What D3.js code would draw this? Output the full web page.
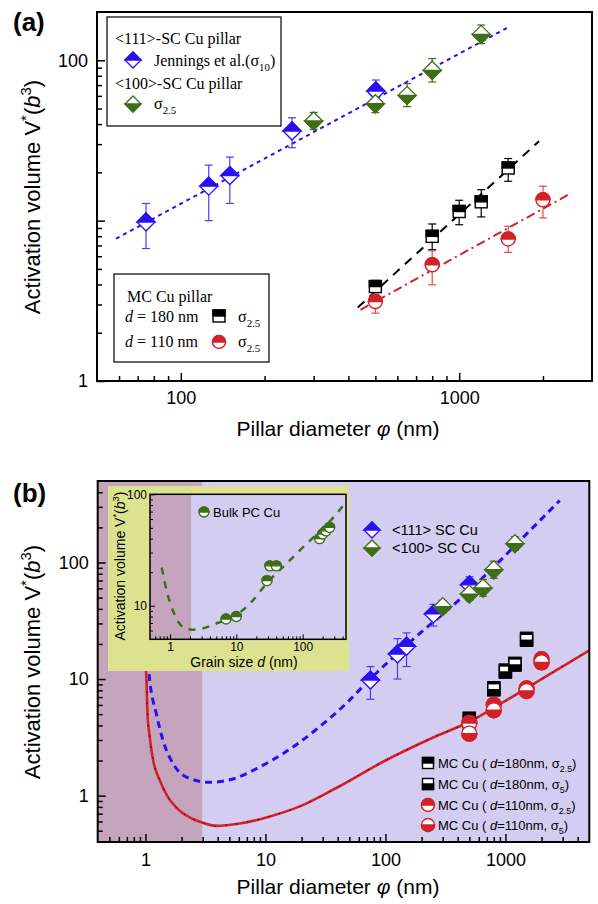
<!DOCTYPE html>
<html>
<head>
<meta charset="utf-8">
<script src="https://cdn.jsdelivr.net/npm/d3@7"></script>
<style>
body { margin: 0; background: #fff; }
svg { display: block; }
</style>
</head>
<body>
<svg id="chart" width="598" height="904"></svg>
<script>
// ---- panel (a) data ----
const a111X = [75, 126, 150, 251, 502];
const a111Y = [9.8, 16.4, 19.1, 36.2, 64.3];
const a111Lo = [6.7, 10.0, 12.8, 28.5, 50.6];
const a111Hi = [12.8, 22.2, 24.9, 43.8, 75.3];

const a100X = [300, 500, 650, 800, 1200];
const a100Y = [41.8, 53.6, 60.4, 86.6, 145];
const a100Lo = [37.0, 47.1, 51.4, 73.2, 127];
const a100Hi = [47.3, 59.8, 71.5, 102.5, 166];

const a180X = [500, 800, 1000, 1200, 1500];
const a180Y = [3.88, 7.98, 11.4, 13.1, 21.3];
const a180Lo = [3.6, 6.59, 9.43, 10.55, 17.6];
const a180Hi = [4.24, 9.53, 13.4, 15.6, 24.4];

const a110X = [500, 800, 1500, 2000];
const a110Y = [3.13, 5.31, 7.69, 13.5];
const a110Lo = [2.65, 3.98, 6.34, 10.4];
const a110Hi = [3.48, 6.49, 9.22, 16.4];

const fit111 = [[58.5, 7.72], [1494, 160]];
const fit180 = [[432, 2.87], [1936, 31.3]];
const fit110 = [[442, 2.78], [2500, 14.7]];

// ---- panel (b) data ----
const b180X = [500, 800, 1000, 1200, 1500];
const b180s25Y = [4.6, 8.4, 11.9, 13.6, 22.3];
const b180s5Y = [4.3, 8.1, 11.5, 13.2, 21.5];
const b110X = [500, 800, 1500, 2000];
const b110s25Y = [4.2, 6.0, 8.3, 14.8];
const b110s5Y = [3.4, 5.4, 7.9, 13.9];

const curve111 = [[1.05, 14], [1.085, 9.8], [1.23, 5.08], [1.4, 2.98], [1.7, 1.88], [2.2, 1.44], [3.43, 1.3],
  [5.37, 1.39], [8.95, 1.76], [14, 2.29], [20, 2.95], [30, 4.1], [47.3, 6.2], [71, 9.5], [175, 22.5],
  [417, 48.4], [1864, 220], [2835, 340]];
const curveMC = [[1.01, 12], [1.02, 9.8], [1.04, 5.08], [1.085, 3.19], [1.16, 2.0], [1.32, 1.35], [1.54, 0.97],
  [1.81, 0.79], [2.34, 0.65], [2.93, 0.59], [3.9, 0.55], [6.1, 0.577], [10.2, 0.65], [20, 0.82], [40, 1.18],
  [100, 2.0], [250, 3.15], [500, 4.3], [1000, 6.5], [2000, 10.0], [5000, 17.6]];

// inset
const bulkX = [7, 10, 29, 32, 40, 180, 200, 225, 255];
const bulkY = [7.6, 8.0, 16.8, 22.8, 22.8, 40, 44, 47, 50.5];
const curveBulk = [[0.75, 22], [0.91, 13], [1.15, 8.6], [1.54, 6.5], [2.17, 6.1], [3.25, 6.3], [5.2, 7.0],
  [9.2, 8.0], [16.4, 10.6], [29, 16], [73, 27.6], [92, 31.7], [329, 67.6], [454, 86]];

// ticks
const axMajor = [100, 1000], axMinor = [60, 70, 80, 90, 200, 300, 400, 500, 600, 700, 800, 900, 2000];
const ayMajor = [1, 10, 100], ayLabels = [1, 100], ayMinor = [2, 3, 4, 5, 6, 7, 8, 9, 20, 30, 40, 50, 60, 70, 80, 90];
const bxMajor = [1, 10, 100, 1000];
const bxMinor = [0.5, 0.6, 0.7, 0.8, 0.9, 2, 3, 4, 5, 6, 7, 8, 9, 20, 30, 40, 50, 60, 70, 80, 90,
  200, 300, 400, 500, 600, 700, 800, 900, 2000, 3000, 4000];
const byMajor = [1, 10, 100];
const byMinor = [0.5, 0.6, 0.7, 0.8, 0.9, 2, 3, 4, 5, 6, 7, 8, 9, 20, 30, 40, 50, 60, 70, 80, 90, 200, 300, 400];
const ixMajor = [1, 10, 100];
const ixMinor = [0.6, 0.7, 0.8, 0.9, 2, 3, 4, 5, 6, 7, 8, 9, 20, 30, 40, 50, 60, 70, 80, 90, 200, 300, 400];
const iyMajor = [10, 100], iyMinor = [6, 7, 8, 9, 20, 30, 40, 50, 60, 70, 80, 90];

const SANS = "Liberation Sans, Arial, Helvetica, sans-serif";
const SERIF = "Liberation Serif, Times New Roman, serif";
const BLUE = "#2a10f0", GREEN = "#3f6e1a", RED = "#d42027";

const svg = d3.select("#chart");

// text with italic / sub / sup parts
function rich(t, parts, base) {
  let off = 0;
  parts.forEach(([s, k]) => {
    const want = k === "sub" ? 0.3 : k === "sup" ? -0.42 : 0;
    const ts = t.append("tspan").text(s).attr("dy", ((want - off) * base) + "px");
    if (k === "sub" || k === "sup") ts.attr("font-size", base * 0.68);
    if (k === "i") ts.attr("font-style", "italic");
    off = want;
  });
  return t;
}

function axes(g, x, y, o) {
  const [xl, xr] = x.range(), [yb, yt] = y.range();
  const fmt = d => String(d);
  g.append("g").attr("transform", `translate(0,${yb})`)
    .call(d3.axisBottom(x).tickValues(o.xMinor).tickFormat("").tickSizeInner(-o.minor).tickSizeOuter(0));
  g.append("g").attr("transform", `translate(0,${yb})`)
    .call(d3.axisBottom(x).tickValues(o.xMajor).tickFormat(fmt).tickSizeInner(-o.major).tickSizeOuter(0).tickPadding(o.xpad));
  g.append("g").attr("transform", `translate(${xl},0)`)
    .call(d3.axisLeft(y).tickValues(o.yMinor).tickFormat("").tickSizeInner(-o.minor).tickSizeOuter(0));
  g.append("g").attr("transform", `translate(${xl},0)`)
    .call(d3.axisLeft(y).tickValues(o.yMajor).tickFormat(d => (o.yLabels || o.yMajor).includes(d) ? fmt(d) : "")
      .tickSizeInner(-o.major).tickSizeOuter(0).tickPadding(o.ypad));
  g.selectAll(".domain").remove();
  g.selectAll(".tick line").attr("stroke", "#000").attr("stroke-width", o.tw);
  g.selectAll(".tick text").attr("font-size", o.fs).attr("font-family", SANS).attr("fill", "#000");
  g.append("rect").attr("x", xl).attr("y", yt).attr("width", xr - xl).attr("height", yb - yt)
    .attr("fill", "none").attr("stroke", "#000").attr("stroke-width", o.fw);
}

function diamond(g, cx, cy, r, col, topFilled) {
  g.append("path").attr("d", `M${cx - r},${cy}L${cx},${cy - r}L${cx + r},${cy}L${cx},${cy + r}Z`)
    .attr("fill", "#fff").attr("stroke", col).attr("stroke-width", 1.3);
  const s = topFilled ? -r : r;
  g.append("path").attr("d", `M${cx - r},${cy}L${cx},${cy + s}L${cx + r},${cy}Z`)
    .attr("fill", col).attr("stroke", col).attr("stroke-width", 1.3);
}
function square(g, cx, cy, h, topFilled) {
  g.append("rect").attr("x", cx - h).attr("y", cy - h).attr("width", 2 * h).attr("height", 2 * h)
    .attr("fill", "#fff").attr("stroke", "#000").attr("stroke-width", 1.4);
  g.append("rect").attr("x", cx - h).attr("y", topFilled ? cy - h : cy).attr("width", 2 * h).attr("height", h)
    .attr("fill", "#000").attr("stroke", "#000").attr("stroke-width", 1.4);
}
function halfCircle(g, cx, cy, r, col, topFilled) {
  g.append("circle").attr("cx", cx).attr("cy", cy).attr("r", r)
    .attr("fill", "#fff").attr("stroke", col).attr("stroke-width", 1.4);
  g.append("path").attr("d", `M${cx - r},${cy}A${r},${r} 0 0 ${topFilled ? 1 : 0} ${cx + r},${cy}Z`)
    .attr("fill", col).attr("stroke", col).attr("stroke-width", 1.4);
}
function errBars(g, x, y, xs, lo, hi, col, cap) {
  xs.forEach((d, i) => {
    const px = x(d);
    g.append("line").attr("x1", px).attr("x2", px).attr("y1", y(lo[i])).attr("y2", y(hi[i]))
      .attr("stroke", col).attr("stroke-width", 1.2);
    [lo[i], hi[i]].forEach(v => g.append("line").attr("x1", px - cap).attr("x2", px + cap)
      .attr("y1", y(v)).attr("y2", y(v)).attr("stroke", col).attr("stroke-width", 1.2));
  });
}

// =============== panel (a) ===============
const xA = d3.scaleLog().domain([50, 3000]).range([97, 592]);
const yA = d3.scaleLog().domain([1, 200]).range([381, 12]);
const gA = svg.append("g");

const lineA = d3.line().x(d => xA(d[0])).y(d => yA(d[1]));
gA.append("path").attr("d", lineA(fit111)).attr("fill", "none").attr("stroke", BLUE)
  .attr("stroke-width", 2).attr("stroke-dasharray", "4,4");
gA.append("path").attr("d", lineA(fit180)).attr("fill", "none").attr("stroke", "#000")
  .attr("stroke-width", 2).attr("stroke-dasharray", "9,7");
gA.append("path").attr("d", lineA(fit110)).attr("fill", "none").attr("stroke", RED)
  .attr("stroke-width", 2).attr("stroke-dasharray", "9,4,2,4");

errBars(gA, xA, yA, a111X, a111Lo, a111Hi, "#4a3cff", 4);
errBars(gA, xA, yA, a100X, a100Lo, a100Hi, GREEN, 4);
errBars(gA, xA, yA, a180X, a180Lo, a180Hi, "#000", 4);
errBars(gA, xA, yA, a110X, a110Lo, a110Hi, "#e04a4a", 4);

a111X.forEach((d, i) => diamond(gA, xA(d), yA(a111Y[i]), 9, BLUE, true));
a100X.forEach((d, i) => diamond(gA, xA(d), yA(a100Y[i]), 9, GREEN, false));
a180X.forEach((d, i) => square(gA, xA(d), yA(a180Y[i]), 6, true));
a110X.forEach((d, i) => halfCircle(gA, xA(d), yA(a110Y[i]), 7, RED, true));

axes(gA, xA, yA, { xMajor: axMajor, xMinor: axMinor, yMajor: ayMajor, yMinor: ayMinor, yLabels: ayLabels,
  major: 8, minor: 5, xpad: 10, ypad: 9, fs: 18, tw: 1.5, fw: 2 });

// legends (a)
gA.append("rect").attr("x", 107).attr("y", 17).attr("width", 174).attr("height", 109)
  .attr("fill", "#fff").attr("stroke", "#000").attr("stroke-width", 1.2);
gA.append("text").attr("x", 115).attr("y", 44).attr("font-family", SERIF).attr("font-size", 16).text("<111>-SC Cu pillar");
diamond(gA, 133, 60, 8, BLUE, true);
rich(gA.append("text").attr("x", 154).attr("y", 66).attr("font-family", SERIF).attr("font-size", 16),
  [["Jennings et al.(σ", ""], ["10", "sub"], [")", ""]], 16);
gA.append("text").attr("x", 115).attr("y", 89).attr("font-family", SERIF).attr("font-size", 16).text("<100>-SC Cu pillar");
diamond(gA, 133, 104, 8, GREEN, false);
rich(gA.append("text").attr("x", 154).attr("y", 109).attr("font-family", SERIF).attr("font-size", 16),
  [["σ", ""], ["2.5", "sub"]], 16);

gA.append("rect").attr("x", 114).attr("y", 274).attr("width", 155).attr("height", 88)
  .attr("fill", "#fff").attr("stroke", "#000").attr("stroke-width", 1.2);
gA.append("text").attr("x", 127).attr("y", 302).attr("font-family", SERIF).attr("font-size", 16).text("MC Cu pillar");
rich(gA.append("text").attr("x", 125).attr("y", 322).attr("font-family", SERIF).attr("font-size", 16),
  [["d", "i"], [" = 180 nm", ""]], 16);
square(gA, 219, 316, 6, true);
rich(gA.append("text").attr("x", 238).attr("y", 322).attr("font-family", SERIF).attr("font-size", 16),
  [["σ", ""], ["2.5", "sub"]], 16);
rich(gA.append("text").attr("x", 125).attr("y", 347).attr("font-family", SERIF).attr("font-size", 16),
  [["d", "i"], [" = 110 nm", ""]], 16);
halfCircle(gA, 219, 342, 6.5, RED, true);
rich(gA.append("text").attr("x", 238).attr("y", 347).attr("font-family", SERIF).attr("font-size", 16),
  [["σ", ""], ["2.5", "sub"]], 16);

// axis titles (a)
rich(gA.append("text").attr("transform", "translate(40,197) rotate(-90)").attr("text-anchor", "middle")
  .attr("font-family", SANS).attr("font-size", 22),
  [["Activation volume V", ""], ["*", "sup"], ["(", ""], ["b", "i"], ["3", "sup"], [")", ""]], 22);
rich(gA.append("text").attr("x", 338).attr("y", 436).attr("text-anchor", "middle")
  .attr("font-family", SANS).attr("font-size", 21),
  [["Pillar diameter ", ""], ["φ", "i"], [" (nm)", ""]], 21);
svg.append("text").attr("x", 13).attr("y", 31).attr("font-family", SANS).attr("font-weight", "bold")
  .attr("font-size", 26).text("(a)");

// =============== panel (b) ===============
const xB = d3.scaleLog().domain([0.4, 5000]).range([97.7, 589.3]);
const yB = d3.scaleLog().domain([0.4, 500]).range([842, 481]);
const gB = svg.append("g");
svg.append("clipPath").attr("id", "clipB").append("rect")
  .attr("x", 97.7).attr("y", 481).attr("width", 491.6).attr("height", 361);

gB.append("rect").attr("x", xB(0.4)).attr("y", 481).attr("width", xB(3) - xB(0.4)).attr("height", 361).attr("fill", "#c5a5bd");
gB.append("rect").attr("x", xB(3)).attr("y", 481).attr("width", xB(5000) - xB(3)).attr("height", 361).attr("fill", "#d3cdf1");

const lineB = d3.line().x(d => xB(d[0])).y(d => yB(d[1])).curve(d3.curveMonotoneX);
const cb = gB.append("g").attr("clip-path", "url(#clipB)");
cb.append("path").attr("d", lineB(curve111)).attr("fill", "none").attr("stroke", BLUE)
  .attr("stroke-width", 3).attr("stroke-dasharray", "7,5");
cb.append("path").attr("d", lineB(curveMC)).attr("fill", "none").attr("stroke", RED).attr("stroke-width", 2.6);
cb.append("path").attr("d", lineB(curveMC)).attr("fill", "none").attr("stroke", "#000")
  .attr("stroke-width", 1).attr("stroke-dasharray", "1,10");

errBars(gB, xB, yB, a111X, a111Lo, a111Hi, "#4a3cff", 4);
errBars(gB, xB, yB, a100X, a100Lo, a100Hi, GREEN, 4);
a111X.forEach((d, i) => diamond(gB, xB(d), yB(a111Y[i]), 9, BLUE, true));
a100X.forEach((d, i) => diamond(gB, xB(d), yB(a100Y[i]), 9, GREEN, false));
b180X.forEach((d, i) => square(gB, xB(d), yB(b180s25Y[i]), 6, true));
b180X.forEach((d, i) => square(gB, xB(d), yB(b180s5Y[i]), 6, false));
b110X.forEach((d, i) => halfCircle(gB, xB(d), yB(b110s25Y[i]), 7.5, RED, true));
b110X.forEach((d, i) => halfCircle(gB, xB(d), yB(b110s5Y[i]), 7.5, RED, false));

axes(gB, xB, yB, { xMajor: bxMajor, xMinor: bxMinor, yMajor: byMajor, yMinor: byMinor,
  major: 8, minor: 5, xpad: 11, ypad: 9, fs: 18, tw: 1.5, fw: 2 });

// legends (b)
diamond(gB, 372, 530, 8, BLUE, true);
gB.append("text").attr("x", 392).attr("y", 535).attr("font-family", SANS).attr("font-size", 14.5).text("<111> SC Cu");
diamond(gB, 372, 548, 8, GREEN, false);
gB.append("text").attr("x", 392).attr("y", 553).attr("font-family", SANS).attr("font-size", 14.5).text("<100> SC Cu");

const legRows = [
  { y: 763, kind: "sq", top: true, d: "180", s: "2.5" },
  { y: 784, kind: "sq", top: false, d: "180", s: "5" },
  { y: 805, kind: "ci", top: true, d: "110", s: "2.5" },
  { y: 825, kind: "ci", top: false, d: "110", s: "5" }
];
legRows.forEach(r => {
  if (r.kind === "sq") square(gB, 428, r.y, 5.5, r.top);
  else halfCircle(gB, 428, r.y, 6.5, RED, r.top);
  rich(gB.append("text").attr("x", 438).attr("y", r.y + 5).attr("font-family", SANS).attr("font-size", 13),
    [["MC Cu ( ", ""], ["d", "i"], ["=" + r.d + "nm, σ", ""], [r.s, "sub"], [")", ""]], 13);
});

// axis titles (b)
rich(gB.append("text").attr("transform", "translate(40,662) rotate(-90)").attr("text-anchor", "middle")
  .attr("font-family", SANS).attr("font-size", 22),
  [["Activation volume V", ""], ["*", "sup"], ["(", ""], ["b", "i"], ["3", "sup"], [")", ""]], 22);
rich(gB.append("text").attr("x", 338).attr("y", 894).attr("text-anchor", "middle")
  .attr("font-family", SANS).attr("font-size", 21),
  [["Pillar diameter ", ""], ["φ", "i"], [" (nm)", ""]], 21);
svg.append("text").attr("x", 13).attr("y", 502).attr("font-family", SANS).attr("font-weight", "bold")
  .attr("font-size", 26).text("(b)");

// =============== inset ===============
const xI = d3.scaleLog().domain([0.5, 450]).range([150, 346]);
const yI = d3.scaleLog().domain([5, 100]).range([639.3, 494.3]);
const gI = svg.append("g");
gI.append("rect").attr("x", 108).attr("y", 486).attr("width", 241).attr("height", 185).attr("fill", "#dde28f");
gI.append("rect").attr("x", xI(0.5)).attr("y", 494.3).attr("width", xI(2.1) - xI(0.5)).attr("height", 145).attr("fill", "#c5a5bd");
gI.append("rect").attr("x", xI(2.1)).attr("y", 494.3).attr("width", xI(450) - xI(2.1)).attr("height", 145).attr("fill", "#d3cdf1");
svg.append("clipPath").attr("id", "clipI").append("rect")
  .attr("x", 150).attr("y", 494.3).attr("width", 196).attr("height", 145);
const lineI = d3.line().x(d => xI(d[0])).y(d => yI(d[1])).curve(d3.curveMonotoneX);
gI.append("g").attr("clip-path", "url(#clipI)").append("path").attr("d", lineI(curveBulk))
  .attr("fill", "none").attr("stroke", GREEN).attr("stroke-width", 2.5).attr("stroke-dasharray", "7,7");
bulkX.forEach((d, i) => halfCircle(gI, xI(d), yI(bulkY[i]), 5, GREEN, true));

axes(gI, xI, yI, { xMajor: ixMajor, xMinor: ixMinor, yMajor: iyMajor, yMinor: iyMinor,
  major: 5, minor: 3, xpad: 3, ypad: 3, fs: 12, tw: 1, fw: 1.5 });

halfCircle(gI, 204, 512, 5, GREEN, true);
gI.append("text").attr("x", 213).attr("y", 517).attr("font-family", SANS).attr("font-size", 13).text("Bulk PC Cu");
rich(gI.append("text").attr("transform", "translate(125,566) rotate(-90)").attr("text-anchor", "middle")
  .attr("font-family", SANS).attr("font-size", 14),
  [["Activation volume V", ""], ["*", "sup"], ["(", ""], ["b", "i"], ["3", "sup"], [")", ""]], 14);
rich(gI.append("text").attr("x", 244).attr("y", 667).attr("text-anchor", "middle")
  .attr("font-family", SANS).attr("font-size", 14),
  [["Grain size ", ""], ["d", "i"], [" (nm)", ""]], 14);
</script>
</body>
</html>
